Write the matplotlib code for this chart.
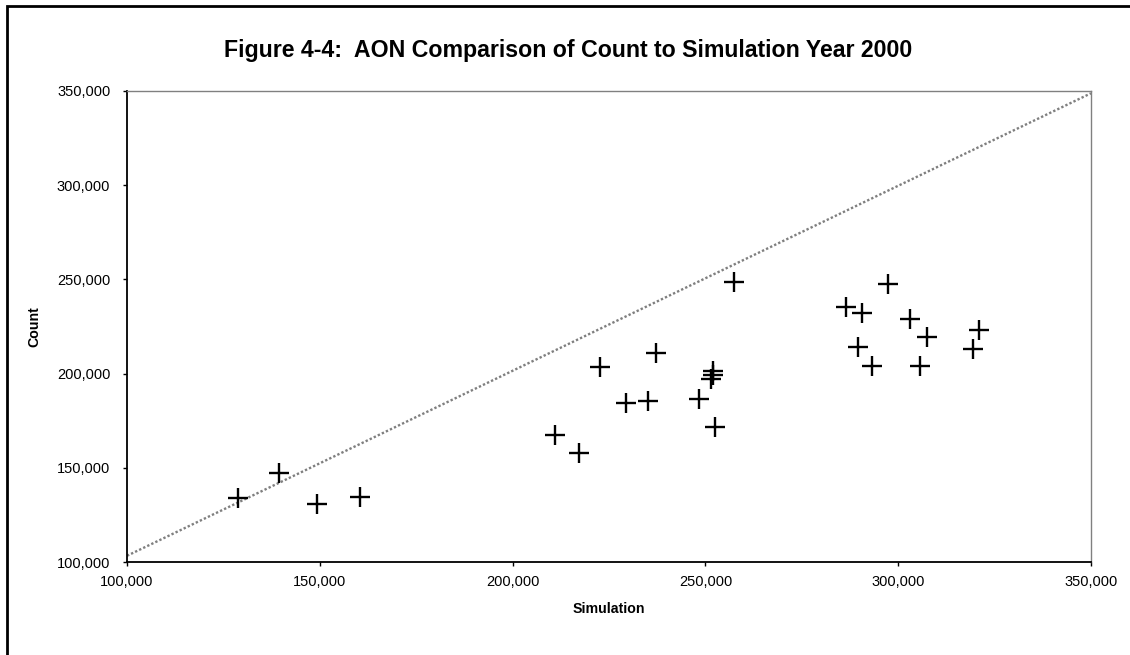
import matplotlib
matplotlib.use("Agg")
import matplotlib.pyplot as plt
from matplotlib.ticker import FuncFormatter, MultipleLocator
from matplotlib.patches import Rectangle

plt.rcParams['font.family'] = ['Liberation Sans', 'DejaVu Sans']

# Data
simulation = [128860, 139500, 149180, 160420, 210900, 217200, 222650, 229310,
              235010, 237090, 248400, 251950, 251950, 251510, 252470, 257400,
              286440, 289630, 290670, 293100, 297410, 303030, 305710, 307440,
              319280, 320920]
count = [134130, 147080, 130790, 134660, 167410, 158020, 203330, 184560,
         185460, 211100, 186520, 201540, 199100, 197000, 171500, 248800,
         235190, 213960, 232330, 204200, 247400, 228820, 204200, 219590,
         213060, 223150]
ref_line_x = [100000, 350000]
ref_line_y = [103300, 348800]

title = "Figure 4-4:  AON Comparison of Count to Simulation Year 2000"
xlabel = "Simulation"
ylabel = "Count"

W, H = 1130, 655
fig = plt.figure(figsize=(W / 100, H / 100), dpi=100)
fig.patch.set_facecolor('white')

ax = fig.add_axes([127 / W, 1 - 562 / H, (1091 - 127) / W, (562 - 91) / H])
ax.set_xlim(100000, 350000)
ax.set_ylim(100000, 350000)

ax.plot(ref_line_x, ref_line_y, color='#7f7f7f', lw=1.7,
        linestyle=(0, (1.0, 0.9)), dash_capstyle='butt', zorder=2)
ax.plot(simulation, count, linestyle='none', marker='+', color='black',
        markersize=14.5, markeredgewidth=1.7, zorder=3)

fmt = FuncFormatter(lambda v, p: f"{int(v):,}")
ax.xaxis.set_major_locator(MultipleLocator(50000))
ax.yaxis.set_major_locator(MultipleLocator(50000))
ax.xaxis.set_major_formatter(fmt)
ax.yaxis.set_major_formatter(fmt)
ax.tick_params(axis='both', which='major', direction='out', length=3,
               width=1, color='black', labelsize=10.5, labelcolor='black')
ax.tick_params(axis='x', pad=6.5)
ax.tick_params(axis='y', pad=9)

for s in ['left', 'bottom']:
    ax.spines[s].set_color('black')
    ax.spines[s].set_linewidth(1.3)
for s in ['top', 'right']:
    ax.spines[s].set_color('#808080')
    ax.spines[s].set_linewidth(1.0)

fig.text(568.5 / W, 1 - 57.3 / H, title, ha='center', va='baseline',
         fontsize=16.7, fontweight='bold', color='black')
fig.text(609 / W, 1 - 609 / H, xlabel, ha='center', va='center',
         fontsize=10.2, fontweight='bold', color='black')
fig.text(34 / W, 1 - 327 / H, ylabel, ha='center', va='center',
         rotation=90, fontsize=10.2, fontweight='bold', color='black')

# Outer chart border (right and bottom edges lie outside the image)
border = Rectangle((7 / W, -0.05), 1.1, 1 - 6 / H + 0.05,
                   transform=fig.transFigure, fill=False, edgecolor='black',
                   linewidth=2.0, clip_on=False)
fig.patches.append(border)

fig.savefig("out.png", dpi=100, facecolor='white')
